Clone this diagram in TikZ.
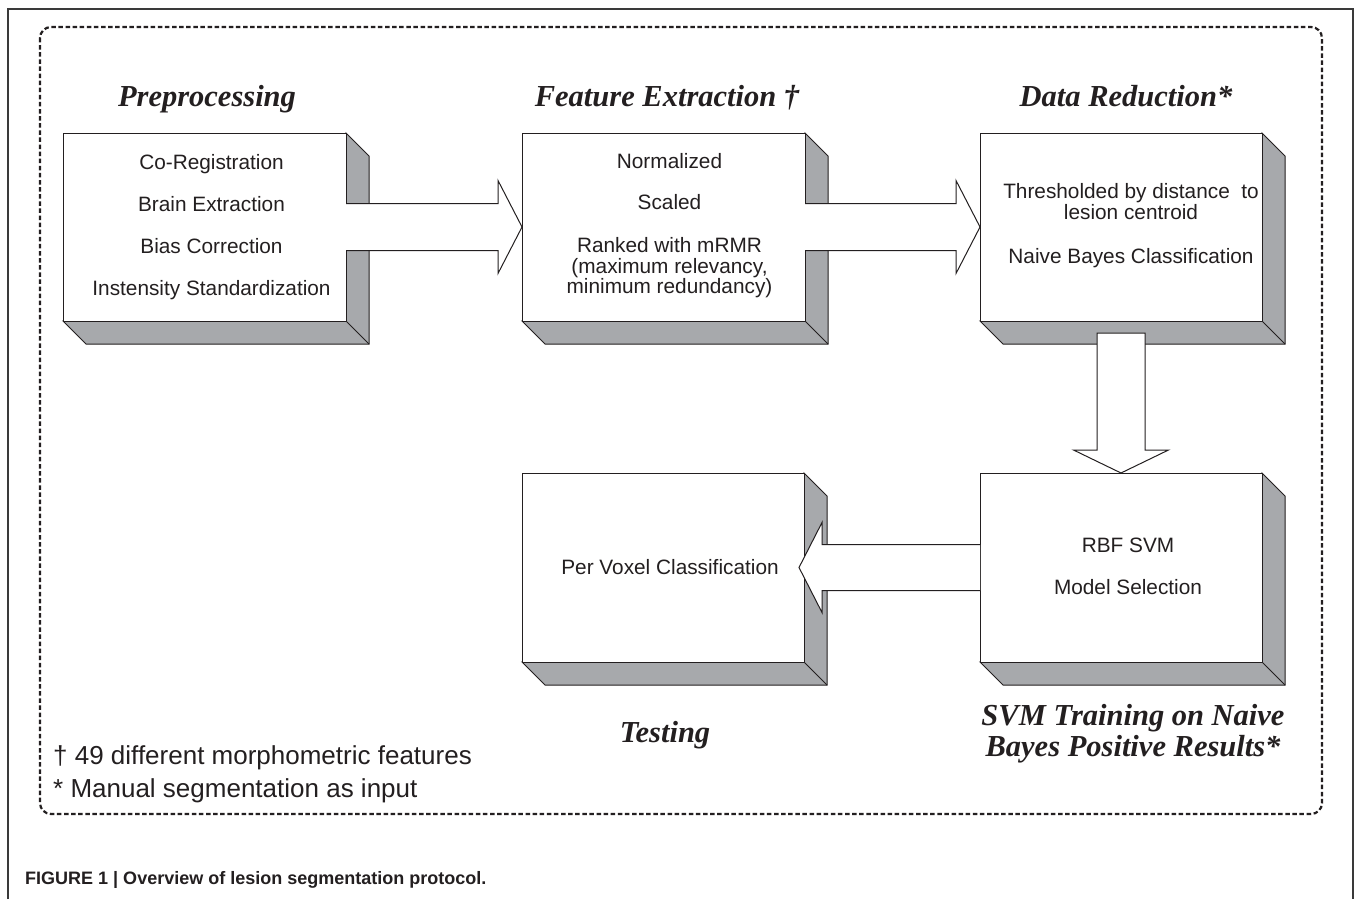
\documentclass[tikz,border=0pt]{standalone}
\usepackage{fontspec}
\setmainfont{Liberation Serif}
\newfontfamily\arialfont{Liberation Sans}
\usetikzlibrary{calc}
\definecolor{ink}{HTML}{231F20}
\definecolor{shade}{HTML}{A7A9AC}
\definecolor{framegray}{HTML}{3A3A3A}
\tikzset{
  face/.style={draw=ink, line width=1pt, fill=white, inner sep=0pt, outer sep=0pt},
  sideface/.style={fill=shade, draw=ink, line width=1pt, line join=miter},
  barrow/.style={fill=white, draw=ink, line width=1pt, line join=miter},
  title/.style={font=\fontsize{30.5}{32}\selectfont\bfseries\itshape, text=ink, inner sep=0pt, anchor=base},
  boxtext/.style={font=\arialfont\fontsize{20.8}{20.5}\selectfont, text=ink, align=center, inner sep=0pt},
  notetext/.style={font=\arialfont\fontsize{26}{33}\selectfont, text=ink, align=left, inner sep=0pt},
  dashframe/.style={draw=ink, line width=2.2pt, dash pattern=on 4.5pt off 2.6pt, rounded corners=11pt},
}
% name, x1, y1, x2, y2 (pixel units, y downwards)
\newcommand\mkbox[5]{%
  \draw[sideface] ({#4},{#3}) -- ({#4+23},{#3+23}) -- ({#4+23},{#5+23}) -- ({#2+23},{#5+23}) -- ({#2},{#5}) -- ({#4},{#5}) -- cycle;
  \draw[ink, line width=1pt] ({#4},{#5}) -- ({#4+23},{#5+23});
  \node[face, minimum width={(#4-#2)*1pt}, minimum height={(#5-#3)*1pt}] (#1) at ({(#2+#4)/2},{(#3+#5)/2}) {};
}
\begin{document}
\begin{tikzpicture}[x=1pt, y=-1pt]
\useasboundingbox (0,0) rectangle (1356,899);
\fill[white] (0,0) rectangle (1356,899);

% outer frame (open at the bottom)
\draw[framegray, line width=1.5pt] (8,899) -- (8,9) -- (1353,9) -- (1353,899);
% dashed rounded frame
\draw[dashframe] (40,27) rectangle (1322,814);

% boxes
\mkbox{b1}{63}{133}{346}{321}
\mkbox{b2}{522}{133}{805}{321}
\mkbox{b3}{980}{133}{1262}{321}
\mkbox{b4}{522}{473}{804}{662}
\mkbox{b5}{980}{473}{1262}{662}

% block arrows
\draw[barrow] ($(b1.east)+(0,-23.5)$) -- ($(b2.west)+(-24,-23.5)$) -- ($(b2.west)+(-24,-46.5)$) -- (b2.west) -- ($(b2.west)+(-24,46.5)$) -- ($(b2.west)+(-24,23.5)$) -- ($(b1.east)+(0,23.5)$);
\draw[barrow] ($(b2.east)+(0,-23.5)$) -- ($(b3.west)+(-24,-23.5)$) -- ($(b3.west)+(-24,-46.5)$) -- (b3.west) -- ($(b3.west)+(-24,46.5)$) -- ($(b3.west)+(-24,23.5)$) -- ($(b2.east)+(0,23.5)$);
\draw[barrow] ($(b3.south)+(-24,12)$) -- ($(b5.north)+(-24,-23)$) -- ($(b5.north)+(-47.5,-23)$) -- (b5.north) -- ($(b5.north)+(47.5,-23)$) -- ($(b5.north)+(24,-23)$) -- ($(b3.south)+(24,12)$) -- cycle;
\coordinate (tip4) at ($(b4.east)+(-5,0)$);
\draw[barrow] ($(b5.west)+(0,-23)$) -- ($(tip4)+(23,-23)$) -- ($(tip4)+(23,-45)$) -- (tip4) -- ($(tip4)+(23,45)$) -- ($(tip4)+(23,23)$) -- ($(b5.west)+(0,23)$);

% titles
\node[title] (h1) at (207,106) {Preprocessing};
\node[title] (h2) at (667,106) {Feature Extraction †};
\node[title] (h3) at (1126,106) {Data Reduction*};
\node[title] (h4) at (665,742) {Testing};
\node[title, align=center, anchor=center] (h5) at (1133,734) {SVM Training on Naive\\[-1pt]Bayes Positive Results*};

% box texts
\node[boxtext] (t1) at ($(b1.center)+(7,0)$) {Co-Registration\\[21.5pt]Brain Extraction\\[21.5pt]Bias Correction\\[21.5pt]Instensity Standardization};
\node[boxtext] (t2) at ($(b2.center)+(6,-1)$) {Normalized\\[20.5pt]Scaled\\[22.5pt]Ranked with mRMR\\(maximum relevancy,\\minimum redundancy)};
\node[boxtext] (t3) at ($(b3.center)+(10,-1)$) {Thresholded by distance \ to\\lesion centroid\\[24pt]Naive Bayes Classification};
\node[boxtext] (t4) at ($(b4.center)+(7,0)$) {Per Voxel Classification};
\node[boxtext] (t5) at ($(b5.center)+(7,-1)$) {RBF SVM\\[21pt]Model Selection};

% notes
\node[notetext, anchor=west] (n1) at (53,774) {† 49 different morphometric features\\* Manual segmentation as input};

% caption
\node[font=\arialfont\fontsize{18}{20}\selectfont\bfseries, text=ink, inner sep=0pt, anchor=base west] (cap) at (25,884) {FIGURE 1 | Overview of lesion segmentation protocol.};
\end{tikzpicture}
\end{document}
